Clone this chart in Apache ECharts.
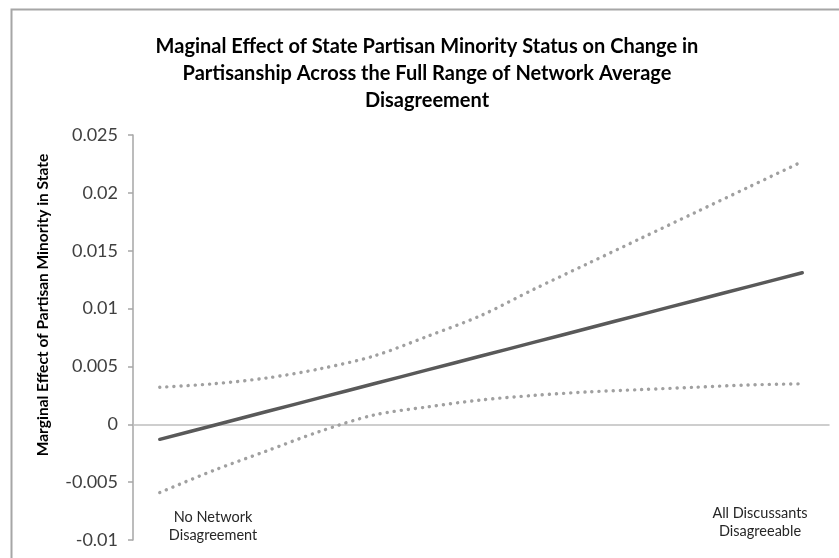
<!DOCTYPE html>
<html>
<head>
<meta charset="utf-8">
<script src="https://cdn.jsdelivr.net/npm/echarts@6/dist/echarts.min.js"></script>
<style>
  html, body { margin: 0; padding: 0; background: #ffffff; }
  #chart { width: 839px; height: 558px; }
</style>
</head>
<body>
<div id="chart"></div>
<script>
// Network average disagreement, from none (0) to all discussants (12)
const categories = ['0', '1', '2', '3', '4', '5', '6', '7', '8', '9', '10', '11', '12'];

// Marginal effect of partisan minority status in state
const marginalEffect = [-0.0013, -0.0001, 0.0011, 0.0023, 0.0035, 0.0047, 0.0059, 0.0071, 0.0083, 0.0095, 0.0107, 0.0119, 0.0131];

// 95% confidence bounds
const upperBound = [0.0032, 0.0035, 0.0040, 0.0048, 0.0059, 0.0076, 0.0094, 0.0117, 0.0139, 0.0161, 0.0183, 0.0205, 0.0227];
const lowerBound = [-0.0059, -0.0040, -0.0023, -0.0006, 0.0008, 0.0015, 0.0021, 0.0025, 0.0028, 0.0030, 0.0032, 0.0034, 0.0035];

const yTicks = { min: -0.01, max: 0.025, interval: 0.005 };

const titleLines = [
  'Maginal Effect of State Partisan Minority Status on Change in',
  'Partisanship Across the Full Range of Network Average',
  'Disagreement'
];
const yAxisTitle = 'Marginal Effect of Partisan Minority in State';
const leftEndLabel = 'No Network\nDisagreement';
const rightEndLabel = 'All Discussants\nDisagreeable';

const FONT = 'Lato';
const chart = echarts.init(document.getElementById('chart'), null, { renderer: 'canvas' });

const dotted = {
  color: '#a0a0a0',
  width: 3.4,
  type: [0.1, 7],
  cap: 'round'
};

chart.setOption({
  backgroundColor: '#ffffff',
  animation: false,
  title: {
    text: titleLines.join('\n'),
    left: 422,
    top: 28,
    textAlign: 'center',
    textStyle: {
      fontFamily: FONT,
      fontWeight: 'bold',
      fontSize: 20,
      lineHeight: 27,
      color: '#000000'
    }
  },
  grid: { left: 133, right: 10, top: 135, bottom: 18 },
  xAxis: {
    type: 'category',
    data: categories,
    boundaryGap: true,
    axisLine: { onZero: true, lineStyle: { color: '#bfbfbf', width: 1.5 } },
    axisTick: { show: false },
    axisLabel: { show: false },
    splitLine: { show: false }
  },
  yAxis: {
    type: 'value',
    min: yTicks.min,
    max: yTicks.max,
    interval: yTicks.interval,
    axisLine: { show: true, lineStyle: { color: '#a6a6a6', width: 1.5 } },
    axisTick: { show: true, inside: false, length: 5, lineStyle: { color: '#a6a6a6', width: 1.5 } },
    splitLine: { show: false },
    axisLabel: {
      margin: 15,
      fontFamily: FONT,
      fontSize: 18,
      color: '#404040',
      formatter: function (v) {
        return String(parseFloat(v.toFixed(4)));
      }
    }
  },
  series: [
    {
      name: 'Upper bound',
      type: 'line',
      data: upperBound,
      smooth: 0.3,
      symbol: 'none',
      lineStyle: dotted,
      z: 2
    },
    {
      name: 'Lower bound',
      type: 'line',
      data: lowerBound,
      smooth: 0.3,
      symbol: 'none',
      lineStyle: dotted,
      z: 2
    },
    {
      name: 'Marginal effect',
      type: 'line',
      data: marginalEffect,
      smooth: 0.3,
      symbol: 'none',
      lineStyle: { color: '#595959', width: 3.5, cap: 'round' },
      z: 3
    }
  ],
  graphic: [
    {
      type: 'rect',
      left: 9,
      top: 7,
      shape: { width: 900, height: 600 },
      style: { fill: 'none', stroke: '#a6a6a6', lineWidth: 2 },
      z: -1,
      silent: true
    },
    {
      type: 'text',
      x: 43,
      y: 305,
      rotation: Math.PI / 2,
      style: {
        text: yAxisTitle,
        fontFamily: FONT,
        fontWeight: 'bold',
        fontSize: 15.5,
        fill: '#000000',
        align: 'center',
        verticalAlign: 'middle'
      }
    },
    {
      type: 'text',
      x: 213,
      y: 526,
      style: {
        text: leftEndLabel,
        fontFamily: FONT,
        fontSize: 14.5,
        lineHeight: 18,
        fill: '#262626',
        align: 'center',
        verticalAlign: 'middle'
      }
    },
    {
      type: 'text',
      x: 760,
      y: 522,
      style: {
        text: rightEndLabel,
        fontFamily: FONT,
        fontSize: 14.5,
        lineHeight: 18,
        fill: '#262626',
        align: 'center',
        verticalAlign: 'middle'
      }
    }
  ]
});
</script>
</body>
</html>
